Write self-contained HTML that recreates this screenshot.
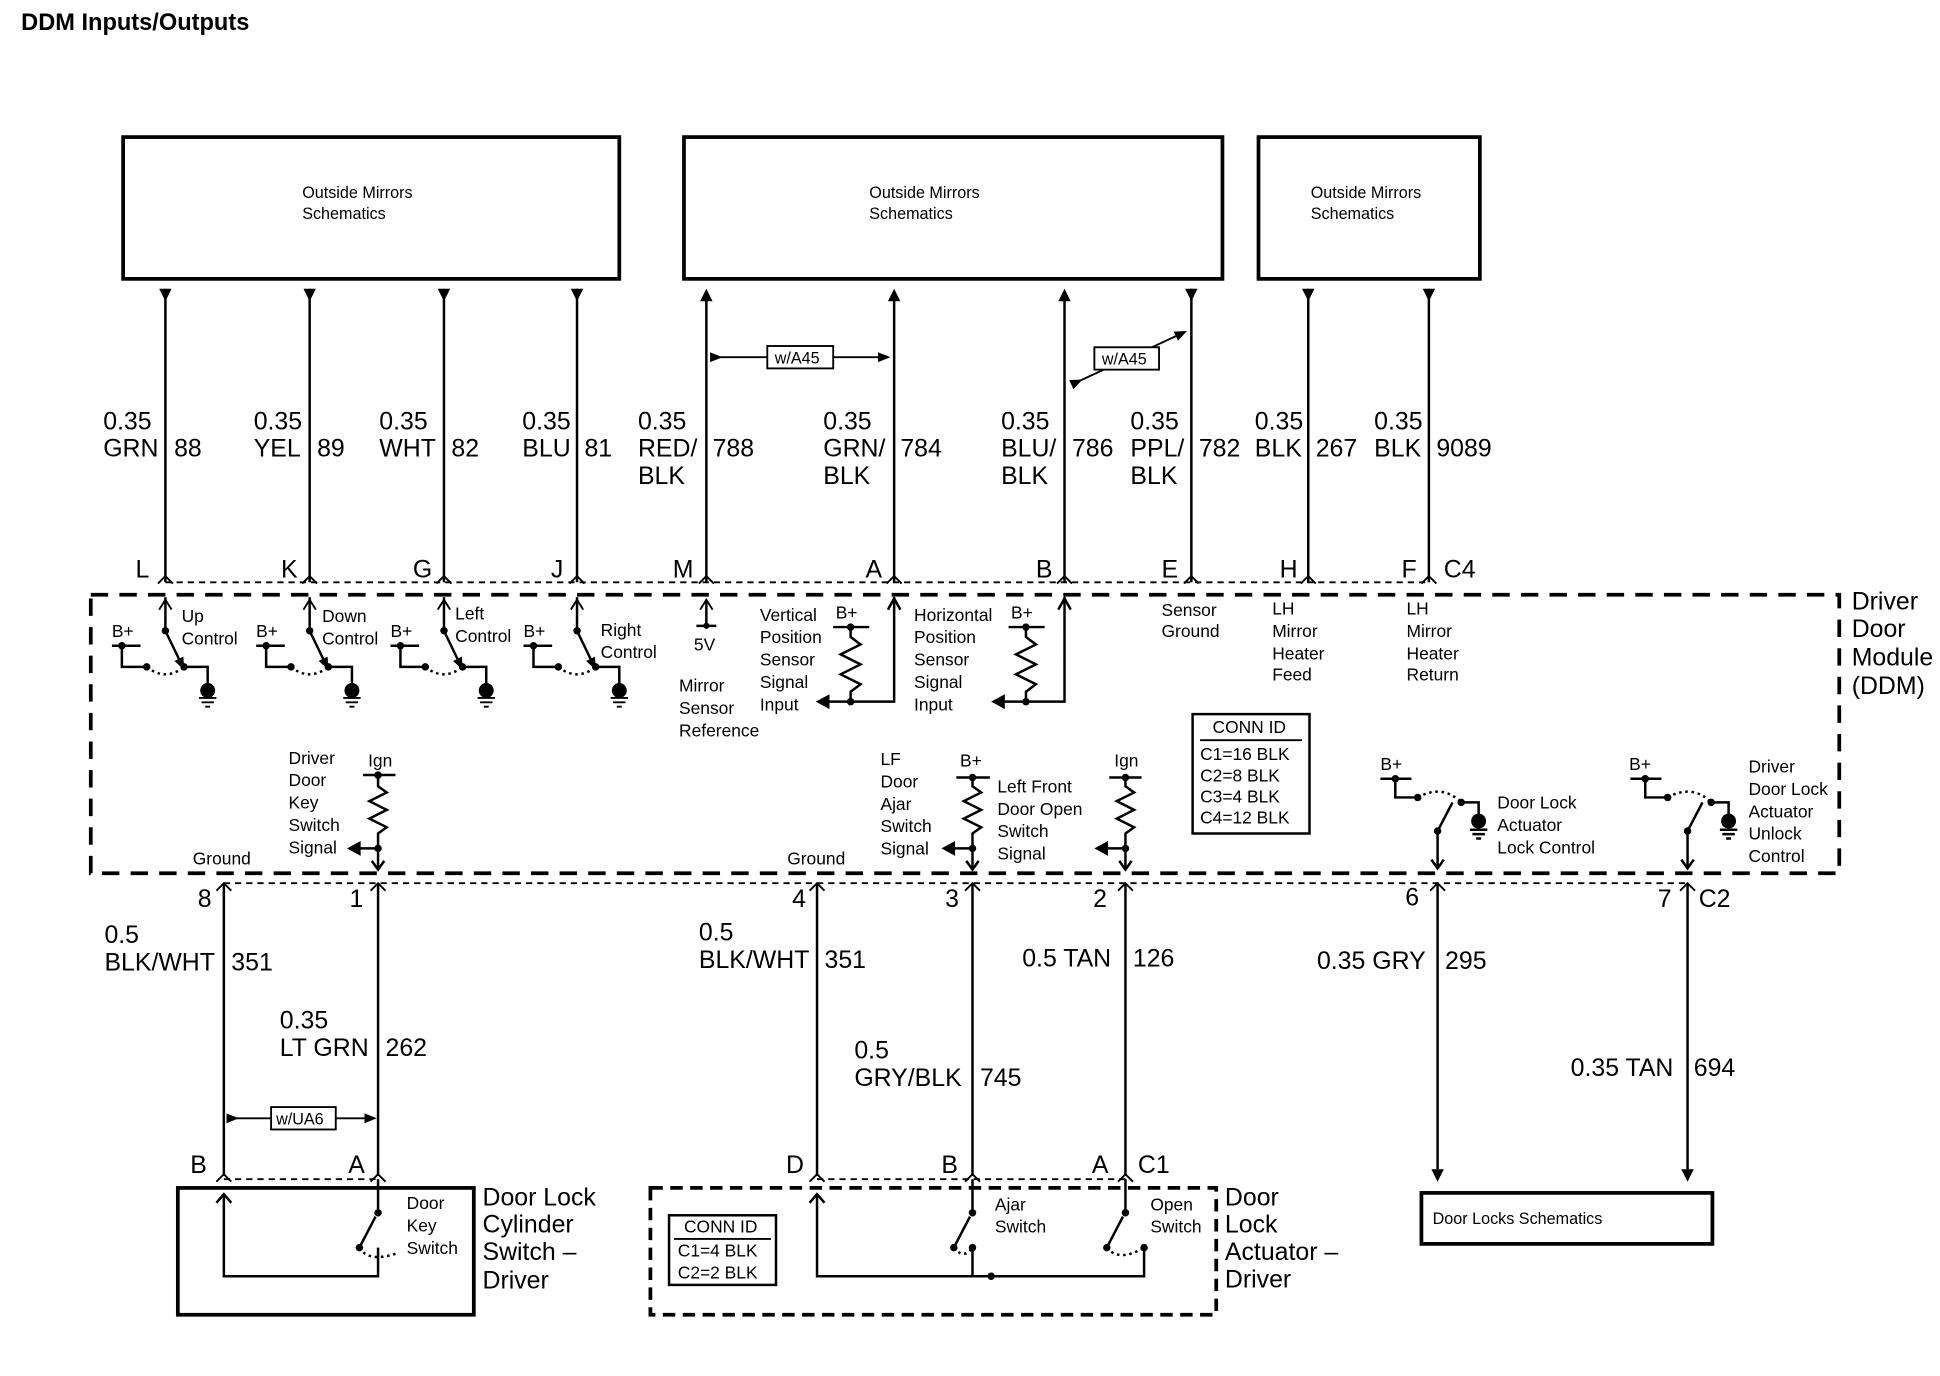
<!DOCTYPE html>
<html><head><meta charset="utf-8"><style>
html,body{margin:0;padding:0;background:#fff}
svg{display:block}
text{font-family:"Liberation Sans",sans-serif;fill:#000}
.b{font-size:20px}
.s{font-size:14px}
.m{font-size:13px}
</style></head><body>
<svg width="1940" height="1376" viewBox="0 0 1560 1106" xmlns="http://www.w3.org/2000/svg">
<defs>
<marker id="ah" markerWidth="10" markerHeight="10" refX="5" refY="5" orient="auto" markerUnits="userSpaceOnUse"><path d="M0,1 L10,5 L0,9 Z" fill="#000"/></marker>
<marker id="oa" markerWidth="12" markerHeight="12" refX="9" refY="6" orient="auto" markerUnits="userSpaceOnUse"><path d="M1,1 L9,6 L1,11" fill="none" stroke="#000" stroke-width="1.5"/></marker>
</defs>
<rect width="1560" height="1106" fill="#fff"/>
<text x="17" y="24" style="font-size:19px;font-weight:bold">DDM Inputs/Outputs</text>

<g fill="none" stroke="#000" stroke-width="3">
<rect x="99" y="110" width="399" height="114"/>
<rect x="550" y="110" width="433" height="114"/>
<rect x="1012" y="110" width="178" height="114"/>
</g>
<text class="m" x="243" y="159">Outside Mirrors</text><text class="m" x="243" y="176">Schematics</text>
<text class="m" x="699" y="159">Outside Mirrors</text><text class="m" x="699" y="176">Schematics</text>
<text class="m" x="1054" y="159">Outside Mirrors</text><text class="m" x="1054" y="176">Schematics</text>

<g stroke="#000" stroke-width="2" fill="none">
<path d="M133,232V468M249,232V468M357,232V468M464,232V468M958,232V468M1052,232V468M1149,232V468"/>
<path d="M568,468V236M719,468V236M856,468V236"/>
</g>
<g fill="#000">
<path d="M128,232h10l-5,10z M244,232h10l-5,10z M352,232h10l-5,10z M459,232h10l-5,10z M953,232h10l-5,10z M1047,232h10l-5,10z M1144,232h10l-5,10z"/>
<path d="M563,242h10l-5,-10z M714,242h10l-5,-10z M851,242h10l-5,-10z"/>
</g>
<g stroke="#000" stroke-width="1.5" fill="none">
<line x1="576" y1="287" x2="711" y2="287" marker-start="url(#ah)" marker-end="url(#ah)"/>
<rect x="617" y="278" width="53" height="18" fill="#fff"/>
<line x1="866" y1="307" x2="950" y2="268" marker-start="url(#ah)" marker-end="url(#ah)"/>
<rect x="880" y="279" width="52" height="18" fill="#fff"/>
</g>
<text class="m" x="623" y="292">w/A45</text>
<text class="m" x="886" y="293">w/A45</text>

<g class="b">
<text x="83" y="345">0.35</text><text x="83" y="367">GRN</text><text x="140" y="367">88</text>
<text x="204" y="345">0.35</text><text x="204" y="367">YEL</text><text x="255" y="367">89</text>
<text x="305" y="345">0.35</text><text x="305" y="367">WHT</text><text x="363" y="367">82</text>
<text x="420" y="345">0.35</text><text x="420" y="367">BLU</text><text x="470" y="367">81</text>
<text x="513" y="345">0.35</text><text x="513" y="367">RED/</text><text x="513" y="389">BLK</text><text x="573" y="367">788</text>
<text x="662" y="345">0.35</text><text x="662" y="367">GRN/</text><text x="662" y="389">BLK</text><text x="724" y="367">784</text>
<text x="805" y="345">0.35</text><text x="805" y="367">BLU/</text><text x="805" y="389">BLK</text><text x="862" y="367">786</text>
<text x="909" y="345">0.35</text><text x="909" y="367">PPL/</text><text x="909" y="389">BLK</text><text x="964" y="367">782</text>
<text x="1009" y="345">0.35</text><text x="1009" y="367">BLK</text><text x="1058" y="367">267</text>
<text x="1105" y="345">0.35</text><text x="1105" y="367">BLK</text><text x="1155" y="367">9089</text>
</g>
<g class="b">
<text x="109" y="464">L</text><text x="226" y="464">K</text><text x="332" y="464">G</text><text x="443" y="464">J</text>
<text x="541" y="464">M</text><text x="696" y="464">A</text><text x="833" y="464">B</text><text x="934" y="464">E</text>
<text x="1029" y="464">H</text><text x="1127" y="464">F</text><text x="1161" y="464">C4</text>
</g>
<line x1="133" y1="468" x2="1149" y2="468" stroke="#000" stroke-width="1.5" stroke-dasharray="5,4"/>
<g stroke="#000" stroke-width="1.5" fill="none">
<path d="M127,469l6,-6l6,6M243,469l6,-6l6,6M351,469l6,-6l6,6M458,469l6,-6l6,6M562,469l6,-6l6,6M713,469l6,-6l6,6M850,469l6,-6l6,6M952,469l6,-6l6,6M1046,469l6,-6l6,6M1143,469l6,-6l6,6"/>
</g>

<rect x="73" y="478" width="1406" height="224" fill="none" stroke="#000" stroke-width="3" stroke-dasharray="14,9"/>
<text class="b" x="1489" y="490">Driver</text><text class="b" x="1489" y="512">Door</text><text class="b" x="1489" y="535">Module</text><text class="b" x="1489" y="558">(DDM)</text>

<g id="sw">
<g stroke="#000" stroke-width="2" fill="none">
<path d="M133,480V507"/>
<line x1="133" y1="507" x2="146" y2="534" marker-end="url(#ah)"/>
<path d="M90,519H113M98,519V536H118M148,536H167V552"/>
<path d="M118,536Q133,548 148,536" stroke-dasharray="2,3"/>
<path d="M160,561H174M162,564.5H172M165,568H169" stroke-width="1.5"/>
</g>
<g fill="#000"><circle cx="133" cy="507" r="3"/><circle cx="98" cy="519" r="3"/><circle cx="118" cy="536" r="3"/><circle cx="148" cy="536" r="3"/><ellipse cx="167" cy="555" rx="6" ry="6"/></g>
<path d="M128,490l5,-8l5,8" fill="none" stroke="#000" stroke-width="1.5"/>
</g>
<use href="#sw" x="116"/><use href="#sw" x="224"/><use href="#sw" x="331"/>
<g class="s">
<text x="90" y="512">B+</text><text x="206" y="512">B+</text><text x="314" y="512">B+</text><text x="421" y="512">B+</text>
<text x="146" y="500">Up</text><text x="146" y="518">Control</text>
<text x="259" y="500">Down</text><text x="259" y="518">Control</text>
<text x="366" y="498">Left</text><text x="366" y="516">Control</text>
<text x="483" y="511">Right</text><text x="483" y="529">Control</text>
</g>

<g stroke="#000" stroke-width="2" fill="none">
<line x1="568" y1="503" x2="568" y2="482" marker-end="url(#oa)"/>
<path d="M560,503H576"/>
</g>
<circle cx="568" cy="503" r="2.5"/>
<g class="s">
<text x="558" y="523">5V</text>
<text x="546" y="556">Mirror</text><text x="546" y="574">Sensor</text><text x="546" y="592">Reference</text>
<text x="611" y="499">Vertical</text><text x="611" y="517">Position</text><text x="611" y="535">Sensor</text><text x="611" y="553">Signal</text><text x="611" y="571">Input</text>
<text x="672" y="497">B+</text>
<text x="735" y="499">Horizontal</text><text x="735" y="517">Position</text><text x="735" y="535">Sensor</text><text x="735" y="553">Signal</text><text x="735" y="571">Input</text>
<text x="813" y="497">B+</text>
<text x="934" y="495">Sensor</text><text x="934" y="512">Ground</text>
<text x="1023" y="494">LH</text><text x="1023" y="512">Mirror</text><text x="1023" y="530">Heater</text><text x="1023" y="547">Feed</text>
<text x="1131" y="494">LH</text><text x="1131" y="512">Mirror</text><text x="1131" y="530">Heater</text><text x="1131" y="547">Return</text>
</g>
<g stroke="#000" stroke-width="2" fill="none">
<path d="M670,504H699M684,504V512l8,6l-16,8l16,8l-16,8l16,8l-8,6V564H719V480"/>
<path d="M811,504H840M825,504V512l8,6l-16,8l16,8l-16,8l16,8l-8,6V564H856V480"/>
<path d="M684,564H665M825,564H806"/>
<path d="M714,490l5,-9l5,9M851,490l5,-9l5,9"/>
</g>
<g fill="#000"><circle cx="684" cy="504" r="3"/><circle cx="684" cy="564" r="3"/><circle cx="825" cy="504" r="3"/><circle cx="825" cy="564" r="3"/>
<path d="M656,564l11,-6v12z M797,564l11,-6v12z"/></g>

<rect x="959" y="574" width="94" height="96" fill="none" stroke="#000" stroke-width="2"/>
<line x1="965" y1="595" x2="1047" y2="595" stroke="#000" stroke-width="1.5"/>
<g class="s"><text x="975" y="589">CONN ID</text><text x="965" y="611">C1=16 BLK</text><text x="965" y="628">C2=8 BLK</text><text x="965" y="645">C3=4 BLK</text><text x="965" y="662">C4=12 BLK</text></g>

<g stroke="#000" stroke-width="2" fill="none">
<path d="M292,623H318M304,623V632l7,5l-14,7l14,7l-14,7l14,7l-7,5V698M304,682H288"/>
<path d="M769,625H796M782,625V632l7,5l-14,7l14,7l-14,7l14,7l-7,5V698M782,682H766"/>
<path d="M892,625H918M905,625V632l7,5l-14,7l14,7l-14,7l14,7l-7,5V698M905,682H889"/>
<path d="M299,692l5,7l5,-7M777,692l5,7l5,-7M900,692l5,7l5,-7"/>
</g>
<g fill="#000"><circle cx="304" cy="623" r="3"/><circle cx="304" cy="682" r="3"/><circle cx="782" cy="625" r="3"/><circle cx="782" cy="682" r="3"/><circle cx="905" cy="625" r="3"/><circle cx="905" cy="682" r="3"/>
<path d="M279,682l11,-6v12z M757,682l11,-6v12z M880,682l11,-6v12z"/></g>
<g class="s">
<text x="232" y="614">Driver</text><text x="232" y="632">Door</text><text x="232" y="650">Key</text><text x="232" y="668">Switch</text><text x="232" y="686">Signal</text>
<text x="296" y="616">Ign</text>
<text x="155" y="695">Ground</text><text x="633" y="695">Ground</text>
<text x="708" y="615">LF</text><text x="708" y="633">Door</text><text x="708" y="651">Ajar</text><text x="708" y="669">Switch</text><text x="708" y="687">Signal</text>
<text x="772" y="616">B+</text>
<text x="802" y="637">Left Front</text><text x="802" y="655">Door Open</text><text x="802" y="673">Switch</text><text x="802" y="691">Signal</text>
<text x="896" y="616">Ign</text>
<text x="1110" y="619">B+</text><text x="1310" y="619">B+</text>
<text x="1204" y="650">Door Lock</text><text x="1204" y="668">Actuator</text><text x="1204" y="686">Lock Control</text>
<text x="1406" y="621">Driver</text><text x="1406" y="639">Door Lock</text><text x="1406" y="657">Actuator</text><text x="1406" y="675">Unlock</text><text x="1406" y="693">Control</text>
</g>
<g id="ls">
<g stroke="#000" stroke-width="2" fill="none">
<path d="M1110,626H1135M1122,626V641H1140M1156,668V698M1156,668L1168,645"/>
<path d="M1140,641Q1160,630 1175,645" stroke-dasharray="2,3"/>
<path d="M1175,645H1189V656M1182,667H1196M1184,670.5H1194M1187,674H1191"/>
<path d="M1151,691l5,7l5,-7"/>
</g>
<g fill="#000"><circle cx="1122" cy="626" r="3"/><circle cx="1140" cy="641" r="3"/><circle cx="1156" cy="668" r="3"/><circle cx="1175" cy="645" r="3"/><circle cx="1189" cy="660" r="6"/></g>
</g>
<use href="#ls" x="201"/>

<line x1="180" y1="710" x2="1357" y2="710" stroke="#000" stroke-width="1.5" stroke-dasharray="5,4"/>
<g stroke="#000" stroke-width="1.5" fill="none">
<path d="M174,716l6,-6l6,6M298,716l6,-6l6,6M651,716l6,-6l6,6M776,716l6,-6l6,6M899,716l6,-6l6,6M1150,716l6,-6l6,6M1351,716l6,-6l6,6"/>
</g>
<g class="b"><text x="159" y="729">8</text><text x="281" y="729">1</text><text x="637" y="729">4</text><text x="760" y="729">3</text><text x="879" y="729">2</text><text x="1130" y="728">6</text><text x="1333" y="729">7</text><text x="1366" y="729">C2</text></g>
<g stroke="#000" stroke-width="2" fill="none">
<path d="M180,710V945M304,710V945M657,710V945M782,710V945M905,710V945M1156,710V940M1357,710V940"/>
</g>
<g fill="#000"><path d="M1151,940h10l-5,10z M1352,940h10l-5,10z"/></g>
<g class="b">
<text x="84" y="758">0.5</text><text x="84" y="780">BLK/WHT</text><text x="186" y="780">351</text>
<text x="225" y="827">0.35</text><text x="225" y="849">LT GRN</text><text x="310" y="849">262</text>
<text x="562" y="756">0.5</text><text x="562" y="778">BLK/WHT</text><text x="663" y="778">351</text>
<text x="822" y="777">0.5 TAN</text><text x="911" y="777">126</text>
<text x="687" y="851">0.5</text><text x="687" y="873">GRY/BLK</text><text x="788" y="873">745</text>
<text x="1059" y="779">0.35 GRY</text><text x="1162" y="779">295</text>
<text x="1263" y="865">0.35 TAN</text><text x="1362" y="865">694</text>
</g>
<line x1="187" y1="899" x2="298" y2="899" stroke="#000" stroke-width="1.5" marker-start="url(#ah)" marker-end="url(#ah)"/>
<rect x="218" y="890" width="52" height="18" fill="#fff" stroke="#000" stroke-width="1.5"/>
<text class="m" x="222" y="904">w/UA6</text>

<g stroke="#000" stroke-width="1.5" fill="none">
<line x1="180" y1="948" x2="304" y2="948" stroke-dasharray="5,4"/>
<line x1="657" y1="948" x2="905" y2="948" stroke-dasharray="5,4"/>
<path d="M174,950l6,-6l6,6M298,950l6,-6l6,6M651,950l6,-6l6,6M776,950l6,-6l6,6M899,950l6,-6l6,6"/>
</g>
<g class="b"><text x="153" y="943">B</text><text x="280" y="943">A</text><text x="632" y="943">D</text><text x="757" y="943">B</text><text x="878" y="943">A</text><text x="915" y="943">C1</text></g>

<rect x="143" y="955" width="238" height="102" fill="none" stroke="#000" stroke-width="3"/>
<g stroke="#000" stroke-width="2" fill="none">
<path d="M180,960V1026H304V1003M304,948V975M289,1003L302,978"/>
<path d="M174,967l6,-7l6,7"/>
<path d="M289,1003Q296,1015 318,1008" stroke-dasharray="2,3"/>
</g>
<g fill="#000"><circle cx="304" cy="975" r="3"/><circle cx="289" cy="1003" r="3"/></g>
<g class="s"><text x="327" y="972">Door</text><text x="327" y="990">Key</text><text x="327" y="1008">Switch</text></g>
<g class="b"><text x="388" y="969">Door Lock</text><text x="388" y="991">Cylinder</text><text x="388" y="1013">Switch –</text><text x="388" y="1036">Driver</text></g>

<rect x="523" y="955" width="455" height="102" fill="none" stroke="#000" stroke-width="3" stroke-dasharray="10,6"/>
<rect x="538" y="977" width="86" height="56" fill="none" stroke="#000" stroke-width="2"/>
<line x1="542" y1="996" x2="620" y2="996" stroke="#000" stroke-width="1.5"/>
<g class="s"><text x="550" y="991">CONN ID</text><text x="545" y="1010">C1=4 BLK</text><text x="545" y="1028">C2=2 BLK</text></g>
<g stroke="#000" stroke-width="2" fill="none">
<path d="M657,960V1026H920V1003M782,948V975M767,1003L780,978M782,1003V1026M905,948V975M890,1003L903,978"/>
<path d="M651,967l6,-7l6,7"/>
<path d="M767,1003Q775,1013 782,1003M890,1003Q900,1015 920,1003" stroke-dasharray="2,3"/>
</g>
<g fill="#000"><circle cx="782" cy="975" r="3"/><circle cx="767" cy="1003" r="3"/><circle cx="782" cy="1003" r="3"/><circle cx="905" cy="975" r="3"/><circle cx="890" cy="1003" r="3"/><circle cx="920" cy="1003" r="3"/><circle cx="797" cy="1026" r="3"/></g>
<g class="s"><text x="800" y="973">Ajar</text><text x="800" y="991">Switch</text><text x="925" y="973">Open</text><text x="925" y="991">Switch</text></g>
<g class="b"><text x="985" y="969">Door</text><text x="985" y="991">Lock</text><text x="985" y="1013">Actuator –</text><text x="985" y="1035">Driver</text></g>

<rect x="1143" y="959" width="234" height="41" fill="none" stroke="#000" stroke-width="3"/>
<text class="m" x="1152" y="984">Door Locks Schematics</text>
</svg>
</body></html>
